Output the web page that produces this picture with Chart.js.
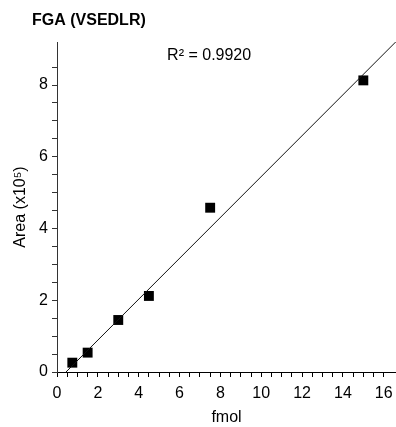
<!DOCTYPE html>
<html>
<head>
<meta charset="utf-8">
<script src="https://cdn.jsdelivr.net/npm/chart.js@4/dist/chart.umd.min.js"></script>
<style>
  html, body { margin: 0; padding: 0; background: #fff; }
  #wrap { width: 396px; height: 427px; position: relative; }
</style>
</head>
<body>
<div id="wrap"><canvas id="chart"></canvas></div>
<script>
// measured points
const fmol = [0.75, 1.5, 3, 4.5, 7.5, 15];
const area = [0.26, 0.54, 1.45, 2.12, 4.58, 8.13];

// linear fit, ends
const fitX = [0.44, 16.6];
const fitY = [0, 9.21];

const chartTitle = 'FGA (VSEDLR)';
const r2Label = 'R\u00B2 = 0.9920';
const r2At = { x: 7.45, y: 8.69 };

const FONT = "'Liberation Sans', Arial, sans-serif";

const halfStep = (scale) => {
  scale.ticks = scale.ticks.filter(t => Math.abs(t.value * 2 - Math.round(t.value * 2)) < 1e-6);
};
const evenOnly = (v) => (Math.abs(v % 2) < 1e-6 ? v : '');

const textPlugin = {
  id: 'texts',
  afterDraw(chart) {
    const ctx = chart.ctx;
    const { x, y } = chart.scales;
    ctx.save();
    ctx.fillStyle = '#000';
    ctx.textBaseline = 'alphabetic';
    ctx.font = 'bold 16px ' + FONT;
    ctx.textAlign = 'left';
    ctx.fillText(chartTitle, 32, 25);
    ctx.font = '16px ' + FONT;
    ctx.textAlign = 'center';
    ctx.fillText(r2Label, x.getPixelForValue(r2At.x), y.getPixelForValue(r2At.y));
    ctx.restore();
  }
};

new Chart(document.getElementById('chart'), {
  type: 'scatter',
  data: {
    datasets: [
      {
        label: 'fit',
        type: 'line',
        data: fitX.map((v, i) => ({ x: v, y: fitY[i] })),
        borderColor: '#111',
        borderWidth: 1,
        pointRadius: 0,
        fill: false
      },
      {
        label: 'FGA',
        data: fmol.map((v, i) => ({ x: v, y: area[i] })),
        pointStyle: 'rect',
        pointRadius: 7,
        pointHoverRadius: 7,
        backgroundColor: '#000',
        borderColor: '#000',
        borderWidth: 0
      }
    ]
  },
  options: {
    responsive: true,
    maintainAspectRatio: false,
    animation: false,
    layout: { autoPadding: false, padding: { top: 42, right: 0, bottom: 0, left: 0 } },
    plugins: {
      legend: { display: false },
      tooltip: { enabled: false }
    },
    scales: {
      x: {
        type: 'linear',
        min: 0,
        max: 16.6,
        afterBuildTicks: halfStep,
        afterFit: (s) => { s.height = 55; s.paddingLeft = 0; s.paddingRight = 0; },
        border: { display: true, color: '#000', width: 1 },
        grid: { drawOnChartArea: false, drawTicks: true, tickLength: 5, tickColor: '#000' },
        ticks: {
          stepSize: 0.5,
          autoSkip: false,
          maxRotation: 0,
          padding: 7,
          color: '#000',
          font: { family: FONT, size: 16 },
          callback: evenOnly
        },
        title: {
          display: true,
          text: 'fmol',
          color: '#000',
          font: { family: FONT, size: 16 },
          padding: { top: 0, bottom: 0 }
        }
      },
      y: {
        type: 'linear',
        min: 0,
        max: 9.2,
        afterBuildTicks: halfStep,
        afterFit: (s) => { s.width = 57; s.paddingTop = 0; s.paddingBottom = 0; },
        border: { display: true, color: '#333', width: 1 },
        grid: { drawOnChartArea: false, drawTicks: true, tickLength: 5, tickColor: '#333' },
        ticks: {
          stepSize: 0.5,
          autoSkip: false,
          padding: 4,
          color: '#000',
          font: { family: FONT, size: 16 },
          callback: evenOnly
        },
        title: {
          display: true,
          text: 'Area (x10\u2075)',
          color: '#000',
          font: { family: FONT, size: 16 },
          padding: { top: 11, bottom: 0 }
        }
      }
    }
  },
  plugins: [textPlugin]
});
</script>
</body>
</html>
